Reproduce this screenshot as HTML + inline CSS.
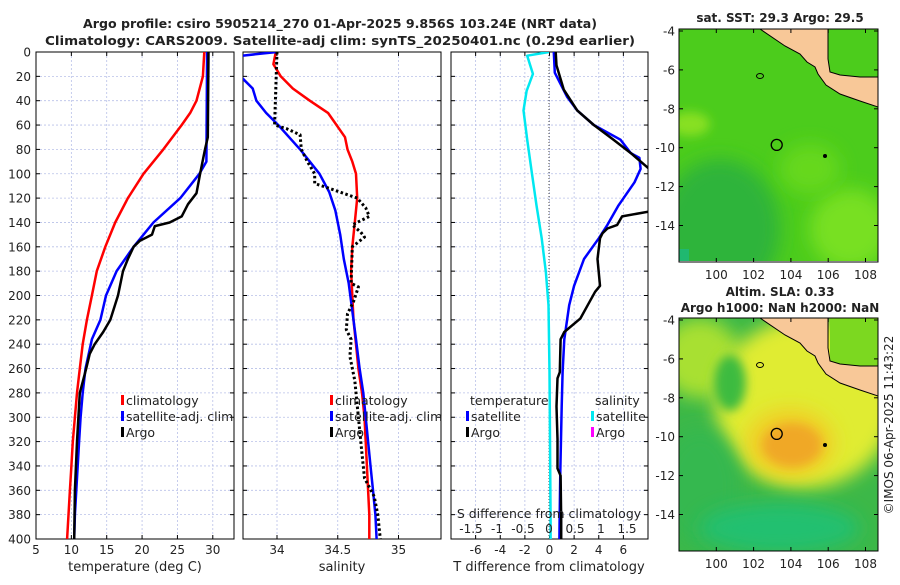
<!DOCTYPE html>
<html><head><meta charset="utf-8"><style>
body{margin:0;background:#fff;}
svg text{font-family:"DejaVu Sans","Liberation Sans",sans-serif;fill:#222;}
</style></head><body>
<svg id="fig" width="900" height="580" viewBox="0 0 900 580" xmlns="http://www.w3.org/2000/svg">
<defs>
<clipPath id="c1"><rect x="36" y="52" width="198" height="487"/></clipPath>
<clipPath id="c2"><rect x="243" y="52" width="198" height="487"/></clipPath>
<clipPath id="c3"><rect x="451" y="52" width="197" height="487"/></clipPath>
<clipPath id="m1"><rect x="679" y="29" width="199" height="232"/></clipPath>
<clipPath id="m2"><rect x="679" y="318" width="199" height="233"/></clipPath>
<filter id="bl" x="-50%" y="-50%" width="200%" height="200%"><feGaussianBlur stdDeviation="9"/></filter>
<filter id="bl2" x="-50%" y="-50%" width="200%" height="200%"><feGaussianBlur stdDeviation="5"/></filter>
</defs>
<text x="340" y="28" text-anchor="middle" font-size="12.5" font-weight="bold" textLength="514" lengthAdjust="spacingAndGlyphs">Argo profile: csiro 5905214_270 01-Apr-2025 9.856S 103.24E (NRT data)</text>
<text x="340" y="45" text-anchor="middle" font-size="12.5" font-weight="bold" textLength="590" lengthAdjust="spacingAndGlyphs">Climatology: CARS2009. Satellite-adj clim: synTS_20250401.nc (0.29d earlier)</text>
<g id="panels"></g>
<g id="maps"></g>
<text transform="translate(893,425) rotate(-90)" text-anchor="middle" font-size="12">©IMOS 06-Apr-2025 11:43:22</text>
</svg>
<script>
// ---- data ----
const tClimDepth=[0,20,40,50,60,80,100,120,140,160,180,200,220,240,260,280,300,320,340,360,380,400];
const tClim=[28.8,28.6,27.7,26.8,25.6,23,20.2,18,16.2,14.8,13.6,12.9,12.2,11.6,11.2,10.8,10.5,10.2,10.0,9.8,9.6,9.4];
const tSatDepth=[0,90,100,120,140,160,180,200,220,236,260,280,300,320,340,360,380,400];
const tSat=[29.2,29.1,28.1,25.4,21.6,18.8,16.4,14.9,14.1,12.9,12.0,11.6,11.3,11.1,10.9,10.7,10.5,10.4];
const tArgoDepth=[0,70,80,100,116,125,135,140,143,150,155,160,170,180,200,220,230,240,248,260,280,320,360,400];
const tArgo=[29.4,29.3,28.9,28.2,27.7,26.5,25.6,23.9,21.8,21.4,19.7,18.8,18.0,17.3,16.6,15.5,14.5,13.3,12.6,12.1,11.2,10.8,10.5,10.4];
const sClimDepth=[0,10,20,30,40,50,60,70,80,90,100,120,140,160,180,200,220,240,260,280,300,320,340,360,380,400];
const sClim=[33.99,33.97,34.03,34.13,34.27,34.42,34.49,34.56,34.58,34.62,34.65,34.66,34.64,34.62,34.61,34.62,34.63,34.65,34.67,34.7,34.72,34.73,34.74,34.75,34.76,34.76];
const sSatDepth=[0,3,12,22,30,40,50,60,80,100,115,130,150,170,190,220,236,260,280,300,320,340,360,380,400];
const sSat=[34.0,33.71,33.55,33.72,33.8,33.83,33.91,34.01,34.19,34.35,34.43,34.48,34.52,34.55,34.59,34.63,34.65,34.68,34.71,34.73,34.75,34.77,34.79,34.81,34.82];
const sArgoDepth=[0,60,63,68,80,90,100,108,113,120,128,135,142,148,152,160,190,193,205,215,228,236,250,270,290,310,330,350,365,380,400];
const sArgo=[34.0,33.98,34.08,34.19,34.2,34.25,34.31,34.31,34.46,34.66,34.73,34.76,34.62,34.69,34.72,34.62,34.61,34.67,34.63,34.58,34.57,34.61,34.6,34.64,34.66,34.68,34.7,34.72,34.8,34.83,34.85];
const dSsatDepth=[0,3,18,32,48,72,99,126,153,181,208,263,385,400];
const dSsat=[0,-0.42,-0.31,-0.43,-0.49,-0.42,-0.33,-0.24,-0.14,-0.06,-0.01,0.01,0.03,0.03];
const dTsatDepth=[0,17,37,48,60,72,83,87,96,107,126,142,153,170,192,208,236,263,291,345,385,400];
const dTsat=[0.35,0.43,1.44,2.25,3.6,5.77,6.6,7.3,7.4,6.9,5.6,4.7,4.0,2.8,2.0,1.6,1.2,1.06,0.99,0.88,0.82,0.8];
const dTargoDepth=[0,11,31,48,60,72,83,96,100,128,131,135,142,145,149,153,170,192,197,208,219,230,236,263,268,291,318,342,348,385,400];
const dTargo=[0.5,0.57,1.16,2.25,3.6,5.2,6.6,8.1,9,9,8.1,5.9,5.5,4.7,4.3,4.1,3.9,4.1,3.7,3.1,2.5,1.2,0.9,0.84,0.65,0.57,0.65,0.65,0.9,0.95,0.95];
const depthTicks=[0,20,40,60,80,100,120,140,160,180,200,220,240,260,280,300,320,340,360,380,400];
const tTicks=[5,10,15,20,25,30];
const sTicks=[34,34.5,35];
const dTTicks=[-6,-4,-2,0,2,4,6];
const dSTicks=[-1.5,-1,-0.5,0,0.5,1,1.5];

const NS='http://www.w3.org/2000/svg';
function mk(tag,attrs,parent){const e=document.createElementNS(NS,tag);for(const k in attrs)e.setAttribute(k,attrs[k]);if(parent)parent.appendChild(e);return e;}
const yD=d=>52+d*(487/400);
const P=[
 {x0:36,w:198,min:5,max:33,clip:'c1'},
 {x0:243,w:198,min:33.72,max:35.35,clip:'c2'},
 {x0:451,w:197,min:-8,max:8,clip:'c3'}];
const xf=(p,v)=>p.x0+(v-p.min)/(p.max-p.min)*p.w;
const xS=v=>549+v*52;
const G=document.getElementById('panels');

P.forEach((p,i)=>{
  const g=mk('g',{},G);
  
  
  mk('rect',{x:p.x0,y:52,width:p.w,height:487,fill:'#fff'},g);
  depthTicks.forEach(d=>{
    mk('line',{x1:p.x0,x2:p.x0+p.w,y1:yD(d),y2:yD(d),stroke:'#b8c0e8','stroke-width':0.8,'stroke-dasharray':'2,2'},g);
    mk('line',{x1:p.x0,x2:p.x0+4,y1:yD(d),y2:yD(d),stroke:'#000'},g);
    mk('line',{x1:p.x0+p.w-4,x2:p.x0+p.w,y1:yD(d),y2:yD(d),stroke:'#000'},g);
  });
  const ticks=i==0?tTicks:i==1?sTicks:dTTicks;
  ticks.forEach(v=>{
    const x=xf(p,v);
    mk('line',{x1:x,x2:x,y1:52,y2:539,stroke:'#b8c0e8','stroke-width':0.8,'stroke-dasharray':'2,2'},g);
    mk('line',{x1:x,x2:x,y1:535,y2:539,stroke:'#000'},g);
    mk('line',{x1:x,x2:x,y1:52,y2:56,stroke:'#000'},g);
    const t=mk('text',{x:x,y:554,'text-anchor':'middle','font-size':12},g);t.textContent=v;
    
    
  });
  mk('rect',{x:p.x0,y:52,width:p.w,height:487,fill:'none',stroke:'#000','stroke-width':1},g);
});
depthTicks.forEach(d=>{
  const t=mk('text',{x:31,y:yD(d)+4.5,'text-anchor':'end','font-size':12},G);t.textContent=d;
  
  
});
[['temperature (deg C)',135,'x-axis-title-temperature'],['salinity',342,'x-axis-title-salinity'],['T difference from climatology',549,'x-axis-title-tdiff']].forEach(a=>{
  const t=mk('text',{x:a[1],y:571,'text-anchor':'middle','font-size':13},G);t.textContent=a[0];
  
  
});
mk('line',{x1:549,x2:549,y1:52,y2:539,stroke:'#444','stroke-width':1,'stroke-dasharray':'1,2'},G);

function line(xs,ds,xfun,clip,color,name,dash,w){
  const pts=xs.map((v,i)=>xfun(v).toFixed(1)+','+yD(ds[i]).toFixed(1)).join(' ');
  const e=mk('polyline',{points:pts,fill:'none',stroke:color,'stroke-width':w||2.5,'clip-path':'url(#'+clip+')','stroke-linejoin':'round'},G);
  if(dash)e.setAttribute('stroke-dasharray',dash);
  
  
}
line(tClim,tClimDepth,v=>xf(P[0],v),'c1','#f00','temp-climatology-line');
line(tSat,tSatDepth,v=>xf(P[0],v),'c1','#00f','temp-satellite-line');
line(tArgo,tArgoDepth,v=>xf(P[0],v),'c1','#000','temp-argo-line');
line(sClim,sClimDepth,v=>xf(P[1],v),'c2','#f00','sal-climatology-line');
line(sSat,sSatDepth,v=>xf(P[1],v),'c2','#00f','sal-satellite-line');
line(sArgo,sArgoDepth,v=>xf(P[1],v),'c2','#000','sal-argo-line','2.5,2.5',3);
line(dSsat,dSsatDepth,xS,'c3','#00e8f0','sdiff-satellite-line');
line(dTsat,dTsatDepth,v=>xf(P[2],v),'c3','#00f','tdiff-satellite-line');
line(dTargo,dTargoDepth,v=>xf(P[2],v),'c3','#000','tdiff-argo-line');

let t=mk('text',{x:549,y:518,'text-anchor':'middle','font-size':12.5},G);t.textContent='S difference from climatology';


dSTicks.forEach(v=>{
  const tt=mk('text',{x:xS(v),y:533,'text-anchor':'middle','font-size':12},G);tt.textContent=v;
  
  
});

function leg(x,y,color,label,name){
  mk('rect',{x:x,y:y-10,width:3,height:10,fill:color},G);
  const tt=mk('text',{x:x+5,y:y,'font-size':12.5},G);tt.textContent=label;
  
  
}
leg(121,405,'#f00','climatology','legend-climatology');
leg(121,421,'#00f','satellite-adj. clim','legend-satellite-adj');
leg(121,437,'#000','Argo','legend-argo');
leg(330,405,'#f00','climatology','legend2-climatology');
leg(330,421,'#00f','satellite-adj. clim','legend2-satellite-adj');
leg(330,437,'#000','Argo','legend2-argo');
t=mk('text',{x:470,y:405,'font-size':12.5},G);t.textContent='temperature';


t=mk('text',{x:595,y:405,'font-size':12.5},G);t.textContent='salinity';


leg(466,421,'#00f','satellite','legend3-t-satellite');
leg(466,437,'#000','Argo','legend3-t-argo');
leg(591,421,'#00e8f0','satellite','legend3-s-satellite');
leg(591,437,'#f0f','Argo','legend3-s-argo');

// ---- maps ----
const latTicks=[-4,-6,-8,-10,-12,-14];
const lonTicks=[100,102,104,106,108];
const M=document.getElementById('maps');
function map(oy,clip,kind,title1,title2){
  const g=mk('g',{},M);
  
  
  const lon=v=>679+(v-98)*18.65;
  const lat=v=>oy+2+(-4-v)*19.45;
  const cg=mk('g',{'clip-path':'url(#'+clip+')'},g);
  if(kind==='sst'){
    mk('rect',{x:679,y:oy,width:199,height:233,fill:'#4ccc1c'},cg);
    mk('ellipse',{cx:720,cy:oy+200,rx:60,ry:70,fill:'#2fb43a',filter:'url(#bl)'},cg);
    mk('ellipse',{cx:850,cy:oy+200,rx:40,ry:40,fill:'#78e020',filter:'url(#bl)'},cg);
    mk('ellipse',{cx:810,cy:oy+140,rx:30,ry:25,fill:'#66d81c',filter:'url(#bl)'},cg);
    mk('ellipse',{cx:690,cy:oy+95,rx:20,ry:12,fill:'#88e020',filter:'url(#bl2)'},cg);
    mk('rect',{x:679,y:oy+220,width:10,height:14,fill:'#20b870'},cg);
  }else{
    mk('rect',{x:679,y:oy,width:199,height:233,fill:'#3cb848'},cg);
    mk('ellipse',{cx:700,cy:oy+40,rx:40,ry:40,fill:'#a8e030',filter:'url(#bl)'},cg);
    mk('ellipse',{cx:805,cy:oy+85,rx:90,ry:85,fill:'#e0ec30',filter:'url(#bl)'},cg);
    mk('ellipse',{cx:790,cy:oy+125,rx:45,ry:35,fill:'#f0d028',filter:'url(#bl)'},cg);
    mk('ellipse',{cx:792,cy:oy+127,rx:30,ry:22,fill:'#f0a828',filter:'url(#bl2)'},cg);
    mk('ellipse',{cx:730,cy:oy+65,rx:16,ry:28,fill:'#3cbb40',filter:'url(#bl2)'},cg);
    mk('ellipse',{cx:700,cy:oy+170,rx:40,ry:60,fill:'#34b850',filter:'url(#bl)'},cg);
    mk('ellipse',{cx:780,cy:oy+210,rx:80,ry:25,fill:'#20c070',filter:'url(#bl)'},cg);
    mk('rect',{x:830,y:oy,width:48,height:50,fill:'#7cd820'},cg);
  }
  const land=mk('polygon',{points:[[760,0],[785,17],[800,25],[807,33],[815,38],[818,45],[826,56],[840,65],[860,72],[878,78],[878,48],[860,48],[840,46],[830,43],[828,30],[828,0]].map(p=>p[0]+','+(p[1]+oy)).join(' '),fill:'#f8c898',stroke:'#000','stroke-width':1},cg);
  
  
  mk('ellipse',{cx:760,cy:oy+47,rx:3.5,ry:2.5,fill:'none',stroke:'#000'},cg);
  mk('circle',{cx:825,cy:oy+127,r:2,fill:'#000'},cg);
  const mk1=mk('circle',{cx:lon(103.24),cy:lat(-9.856),r:5.5,fill:'none',stroke:'#000','stroke-width':1.3},cg);
  
  
  mk('rect',{x:679,y:oy,width:199,height:233,fill:'none',stroke:'#000'},g);
  latTicks.forEach(v=>{
    mk('line',{x1:679,x2:683,y1:lat(v),y2:lat(v),stroke:'#000'},g);
    mk('line',{x1:874,x2:878,y1:lat(v),y2:lat(v),stroke:'#000'},g);
    const tt=mk('text',{x:675,y:lat(v)+4.5,'text-anchor':'end','font-size':12},g);tt.textContent=v;
    
    
  });
  lonTicks.forEach(v=>{
    mk('line',{x1:lon(v),x2:lon(v),y1:oy+229,y2:oy+233,stroke:'#000'},g);
    mk('line',{x1:lon(v),x2:lon(v),y1:oy,y2:oy+4,stroke:'#000'},g);
    const tt=mk('text',{x:lon(v),y:oy+250,'text-anchor':'middle','font-size':12},g);tt.textContent=v;
    
    
  });
  const a=mk('text',{x:780,y:title2?oy-22:oy-7,'text-anchor':'middle','font-size':12,'font-weight':'bold'},g);a.textContent=title1;
  
  
  if(title2){const b=mk('text',{x:780,y:oy-6,'text-anchor':'middle','font-size':12,'font-weight':'bold'},g);b.textContent=title2;
  
  }
}
map(29,'m1','sst','sat. SST: 29.3 Argo: 29.5');
map(318,'m2','sla','Altim. SLA: 0.33','Argo h1000: NaN h2000: NaN');
</script>
</body></html>
